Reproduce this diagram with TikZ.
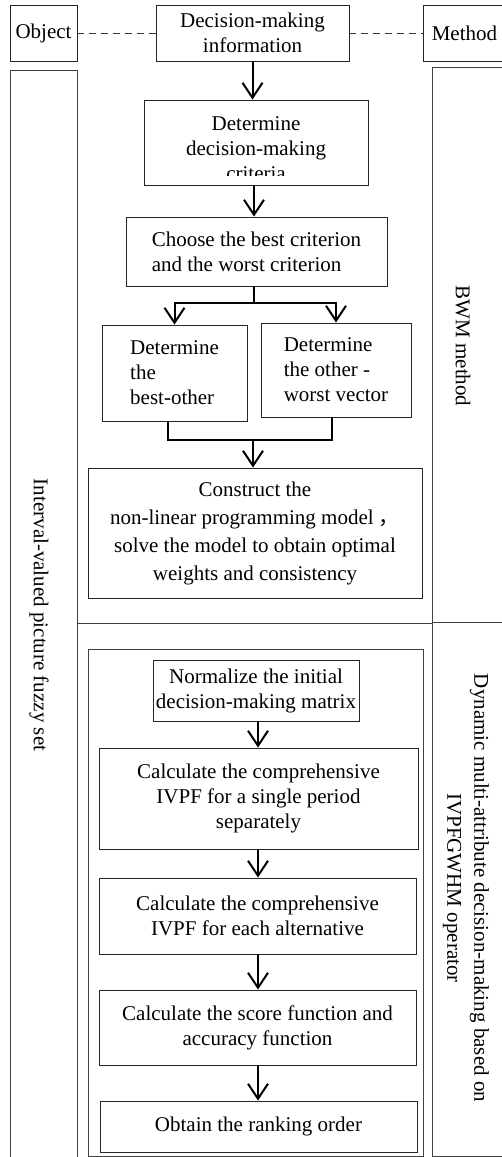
\documentclass[tikz,border=0pt]{standalone}
\usepackage{fontspec}
\setmainfont{Liberation Serif}
\newfontfamily\cjk{Noto Sans CJK SC}
\usetikzlibrary{arrows.meta}

\begin{document}
\begin{tikzpicture}[x=1pt,y=-1pt,
  every node/.style={font=\fontsize{21}{25}\selectfont, inner sep=0pt},
  box/.style={draw=black!85, line width=0.9pt},
  frame/.style={draw=black!75, line width=0.8pt},
  guide/.style={draw=black!80, line width=0.8pt, dash pattern=on 7pt off 5pt},
  link/.style={line width=2pt},
  flow/.style={line width=2pt, -{Straight Barb[length=15pt,width=20pt,line width=2pt]}},
  side/.style={rotate=-90, align=center}]
\useasboundingbox (0,0) rectangle (501,1157);

% top row
\node[box, minimum width=67pt, minimum height=56pt] (object) at (43.5,33) {Object};
\node[box, minimum width=193pt, minimum height=56pt, align=center] (info) at (252.5,33) {Decision-making\\information};
\node[box, minimum width=82pt, minimum height=56pt, anchor=west] (method) at (423,33) {Method};
\draw[guide] (object) -- (info);
\draw[guide] (info) -- (method);

% columns and frames
\draw[frame] (10,70) rectangle (77,1170);
\draw[frame] (432,67) rectangle (510,622);
\draw[frame] (432,622) rectangle (510,1156);
\draw[frame] (77,623) -- (432,623);
\draw[frame] (88,649) rectangle (423,1156);

\node[side] (objlabel) at (39,615) {Interval-valued picture fuzzy set};
\node[side] (bwmlabel) at (463,346) {BWM method};
\node[side, font=\fontsize{21}{27}\selectfont] (dynlabel) at (466,888) {Dynamic multi-attribute decision-making based on\\IVPFGWHM operator};

% BWM part
\node[box, minimum width=224pt, minimum height=85pt] (crit) at (256,142.5) {};
\begin{scope}
\clip (144,100) rectangle (368,175);
\node[align=center] (crittext) at (256,149) {Determine\\decision-making\\criteria};
\end{scope}
\node[box, minimum width=261pt, minimum height=69pt, align=left] (choose) at (256.5,251.5) {Choose the best criterion\\and the worst criterion};
\node[box, minimum width=145pt, minimum height=96pt, align=left] (best) at (174.5,373) {Determine\\the\\best-other};
\node[box, minimum width=150pt, minimum height=94pt, align=left] (worst) at (336,370) {Determine\\the other -\\worst vector};
\node[box, minimum width=334pt, minimum height=130pt, align=center, font=\fontsize{21}{28}\selectfont] (model) at (255,533) {Construct the\\non-linear programming model {\cjk ，}\\solve the model to obtain optimal\\weights and consistency};

\draw[flow] (info.south) -- (info.south |- crit.north);
\draw[flow] (crit.south -| 254,0) -- (choose.north -| 254,0);
\draw[link] (choose.south -| 254,0) -- ++(0,17) coordinate (fork);
\draw[flow] (fork) -| (best.north);
\draw[flow] (fork) -| (worst.north);
\draw[link] (best.south -| 168,0) -- ++(0,19) coordinate (joinl) -- (joinl -| 332,0) -- (worst.south -| 332,0);
\draw[flow] (joinl -| 253,0) -- (model.north -| 253,0);

% dynamic part
\node[box, minimum width=206pt, minimum height=61pt, align=center] (norm) at (256,690.5) {Normalize the initial\\decision-making matrix};
\node[box, minimum width=319pt, minimum height=101pt, align=center] (single) at (258.5,798.5) {Calculate the comprehensive\\IVPF for a single period\\separately};
\node[box, minimum width=317pt, minimum height=76pt, align=center] (each) at (257.5,916) {Calculate the comprehensive\\IVPF for each alternative};
\node[box, minimum width=317pt, minimum height=75pt, align=center] (score) at (257.5,1027.5) {Calculate the score function and\\accuracy function};
\node[box, minimum width=317pt, minimum height=51pt] (rank) at (258.5,1126.5) {Obtain the ranking order};

\draw[flow] (norm.south -| 258,0) -- (single.north -| 258,0);
\draw[flow] (single.south -| 258,0) -- (each.north -| 258,0);
\draw[flow] (each.south -| 258,0) -- (score.north -| 258,0);
\draw[flow] (score.south -| 258,0) -- (rank.north -| 258,0);
\end{tikzpicture}
\end{document}
